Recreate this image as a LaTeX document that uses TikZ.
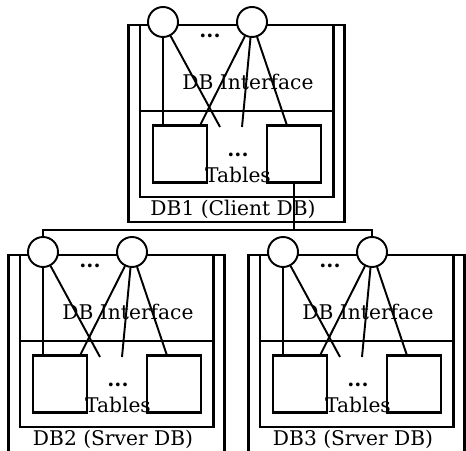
\documentclass[tikz,border=0pt]{standalone}
\usepackage{fontspec}
\setmainfont{DejaVu Serif}
\tikzset{
  port/.style  = {circle, draw, fill=white, line width=1.1pt, minimum size=6mm, inner sep=0pt},
  tab/.style   = {rectangle, draw, fill=white, line width=1.5pt,
                  minimum width=10.8mm, minimum height=11.4mm, inner sep=0pt},
  frame/.style = {line width=1.6pt},
  inframe/.style = {line width=1.2pt},
  wire/.style  = {line width=1.1pt},
  bus/.style   = {line width=1.2pt},
  lbl/.style   = {font=\fontsize{11.5}{13}\selectfont, inner sep=0pt},
  dots/.style  = {font=\fontsize{11.5}{13}\selectfont\bfseries, inner sep=0pt},
}

\begin{document}
\begin{tikzpicture}[x=0.2mm, y=-0.2mm]

\clip (0,0) rectangle (466,450);

% one database block per entry
\foreach \n/\dx/\dy/\kind in {1/0/0/Client, 2/-120/230/Srver, 3/120/230/Srver} {
\begin{scope}[shift={(\dx,\dy)}]
  % outer and inner frame
  \draw[frame] (128.5,25) rectangle (344.5,222);
  \draw[inframe] (140,25) rectangle (333.5,197);
  \draw[inframe] (140,111) -- (333.5,111);

  % tables
  \node[tab] (tab\n-a) at (180,154) {};
  \node[tab] (tab\n-b) at (294,154) {};

  % interface ports
  \node[port] (port\n-a) at (163,22) {};
  \node[port] (port\n-b) at (252,22) {};

  % loose ends of the wires
  \coordinate (end\n-a) at (220,127);
  \coordinate (end\n-b) at (200,125.5);
  \coordinate (end\n-c) at (242,127);
  \coordinate (end\n-d) at (287,125.5);

  % wires
  \draw[wire] (port\n-a) -- (port\n-a |- tab\n-a.north);
  \draw[wire] (port\n-a) -- (end\n-a);
  \foreach \e in {b,c,d} {
    \draw[wire] (port\n-b) -- (end\n-\e);
  }

  % texts
  \node[dots] (dots\n-a) at (210,36) {...};
  \node[lbl] (ifc\n) at (248,82) {DB Interface};
  \node[dots] (dots\n-b) at (238,155) {...};
  \node[lbl] (tlab\n) at (238,175) {Tables};
  \node[lbl] (name\n) at (233,209) {DB\n\ (\kind\ DB)};
\end{scope}
}

% link from the client to the servers
\coordinate (bus) at (200,230);
\draw[bus] (port2-a.north) |- (bus) -| (port3-b.north);
\draw[bus] (tab1-b.south) -- (tab1-b.south |- bus);

\end{tikzpicture}
\end{document}
